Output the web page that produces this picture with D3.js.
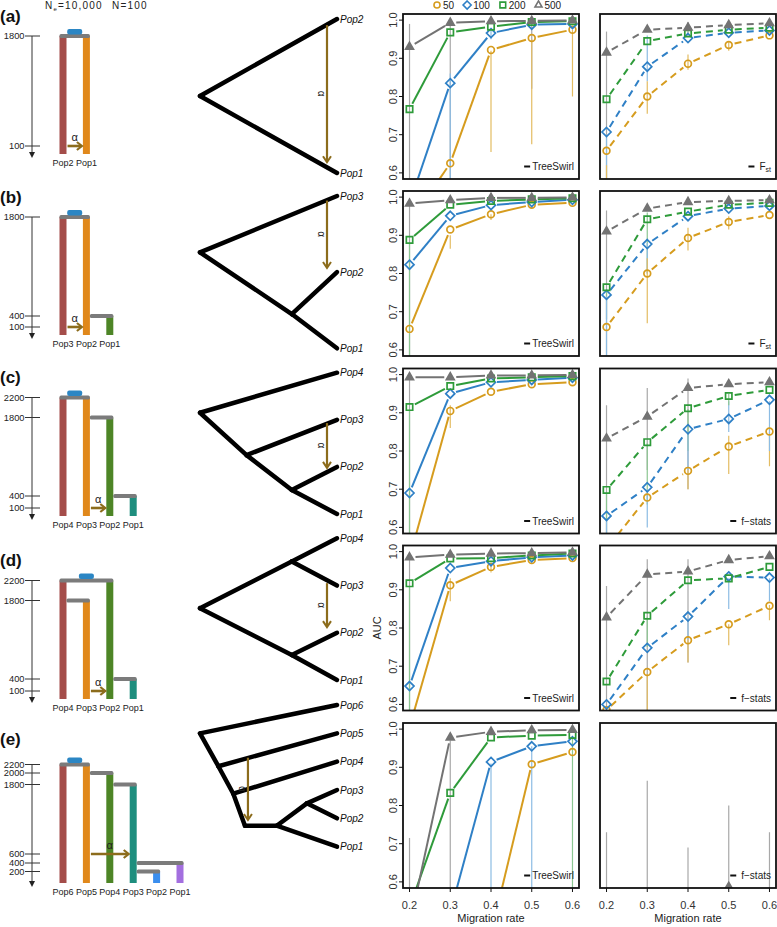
<!DOCTYPE html>
<html>
<head>
<meta charset="utf-8">
<script src="https://cdn.jsdelivr.net/npm/d3@7"></script>
<style>
  body { margin: 0; background: #fff; }
  text { font-family: "Liberation Sans", Arial, sans-serif; }
</style>
</head>
<body>
<svg id="fig" width="777" height="927"></svg>
<script>
// ---- data -------------------------------------------------------------
const rates = [0.2, 0.3, 0.4, 0.5, 0.6];
const sizeLabels = ["50", "100", "200", "500"];
const aucTicks = [0.6, 0.7, 0.8, 0.9, 1.0];

// AUC, one row per sample size (50, 100, 200, 500)
const treeswirlA = [
  [0.47, 0.625, 0.922, 0.953, 0.975],
  [0.52, 0.835, 0.966, 0.988, 0.990],
  [0.767, 0.968, 0.983, 0.995, 0.997],
  [0.930, 0.993, 0.997, 0.998, 0.999]
];
const fstA = [
  [0.658, 0.800, 0.886, 0.935, 0.960],
  [0.707, 0.878, 0.953, 0.967, 0.973],
  [0.793, 0.945, 0.965, 0.975, 0.980],
  [0.915, 0.975, 0.980, 0.987, 0.992]
];
const treeswirlB = [
  [0.655, 0.915, 0.955, 0.980, 0.985],
  [0.823, 0.951, 0.979, 0.987, 0.993],
  [0.888, 0.980, 0.990, 0.994, 0.997],
  [0.983, 0.992, 0.998, 0.998, 0.999]
];
const fstB = [
  [0.660, 0.800, 0.893, 0.935, 0.953],
  [0.744, 0.877, 0.950, 0.970, 0.977],
  [0.764, 0.942, 0.962, 0.980, 0.985],
  [0.910, 0.970, 0.987, 0.990, 0.992]
];
const treeswirlC = [
  [0.52, 0.905, 0.955, 0.975, 0.980],
  [0.690, 0.950, 0.980, 0.986, 0.992],
  [0.915, 0.970, 0.990, 0.993, 0.996],
  [0.993, 0.993, 0.998, 0.998, 0.999]
];
const fstatsC = [
  [0.544, 0.678, 0.748, 0.812, 0.851],
  [0.630, 0.705, 0.857, 0.884, 0.934],
  [0.698, 0.823, 0.912, 0.944, 0.960],
  [0.833, 0.890, 0.965, 0.975, 0.980]
];
const treeswirlD = [
  [0.54, 0.912, 0.960, 0.978, 0.983],
  [0.648, 0.957, 0.975, 0.985, 0.990],
  [0.917, 0.982, 0.983, 0.990, 0.995],
  [0.985, 0.992, 0.995, 0.996, 0.998]
];
const fstatsD = [
  [0.585, 0.685, 0.768, 0.810, 0.858],
  [0.600, 0.748, 0.830, 0.935, 0.932],
  [0.660, 0.832, 0.925, 0.930, 0.960],
  [0.828, 0.940, 0.948, 0.978, 0.988]
];
const treeswirlE = [
  [0.40, 0.42, 0.464, 0.908, 0.940],
  [0.45, 0.52, 0.914, 0.955, 0.968],
  [0.533, 0.833, 0.978, 0.983, 0.985],
  [0.485, 0.978, 0.993, 0.997, 0.998]
];
const fstatsE = [
  [0.45, 0.45, 0.45, 0.45, 0.45],
  [0.45, 0.45, 0.45, 0.45, 0.45],
  [0.45, 0.45, 0.45, 0.45, 0.45],
  [0.50, 0.50, 0.50, 0.587, 0.50]
];

// visible spread bars: [sample size index, rate index, low, high]
const spreadTreeA = [[3,0,0.5,0.99],[3,1,0.5,0.995],[1,1,0.5,0.86],[1,2,0.95,0.975],[0,2,0.655,0.92],[3,3,0.82,0.995],[0,3,0.675,0.95],[0,4,0.80,0.975]];
const spreadFstA = [[3,0,0.5,0.97],[1,0,0.5,0.70],[0,0,0.5,0.62],[1,1,0.84,0.96],[0,1,0.755,0.84],[3,2,0.96,0.995],[0,2,0.87,0.91],[0,3,0.92,0.945]];
const spreadTreeB = [[3,0,0.5,0.998],[2,0,0.5,0.88],[0,1,0.865,0.90],[0,2,0.94,0.955]];
const spreadFstB = [[3,0,0.5,0.965],[2,0,0.68,0.76],[1,0,0.5,0.74],[2,1,0.80,0.96],[1,1,0.80,0.88],[0,1,0.67,0.84],[0,2,0.86,0.92],[0,3,0.915,0.95]];
const spreadTreeC = [[3,0,0.5,0.995],[2,0,0.5,0.91],[0,1,0.86,0.92]];
const spreadFstC = [[3,0,0.5,0.92],[2,0,0.5,0.69],[1,0,0.5,0.62],[3,1,0.75,0.965],[2,1,0.66,0.82],[1,1,0.6,0.70],
  [3,2,0.70,0.99],[2,2,0.8,0.91],[1,2,0.75,0.85],[0,2,0.70,0.75],[0,3,0.74,0.84],[1,3,0.85,0.93],[2,3,0.92,0.95],[0,4,0.76,0.85],[1,4,0.80,0.93]];
const spreadTreeD = [[3,0,0.5,0.99],[2,0,0.5,0.91],[0,1,0.87,0.93],[0,2,0.945,0.965]];
const spreadFstD = [[3,0,0.5,0.91],[3,1,0.5,0.98],[2,1,0.75,0.83],[0,1,0.5,0.68],[3,2,0.71,0.98],[1,2,0.77,0.83],[0,2,0.71,0.77],
  [1,3,0.85,0.93],[0,3,0.755,0.81],[1,4,0.87,0.93],[0,4,0.82,0.86]];
const spreadTreeE = [[3,0,0.5,0.715],[3,1,0.5,0.97],[1,2,0.5,0.91],[1,3,0.5,0.955],[2,4,0.5,0.98]];
const spreadFstE = [[3,0,0.5,0.73],[3,1,0.5,0.865],[3,2,0.5,0.69],[3,3,0.5,0.80],[3,4,0.5,0.73]];

// demographic models: populations, splits [time, parent, child] (first = root), migration [time, from, to]
const popsA = ["Pop2", "Pop1"];
const splitsA = [[1800, 0, 1]];
const migrationA = [100, 0, 1];
const timeTicksA = [1800, 100];
const popsB = ["Pop3", "Pop2", "Pop1"];
const splitsB = [[1800, 0, 1], [400, 1, 2]];
const migrationB = [100, 0, 1];
const timeTicksB = [1800, 400, 100];
const popsC = ["Pop4", "Pop3", "Pop2", "Pop1"];
const splitsC = [[2200, 0, 1], [1800, 1, 2], [400, 2, 3]];
const migrationC = [100, 1, 2];
const timeTicksC = [2200, 1800, 400, 100];
const popsD = ["Pop4", "Pop3", "Pop2", "Pop1"];
const splitsD = [[2200, 0, 2], [1800, 0, 1], [400, 2, 3]];
const migrationD = [100, 1, 2];
const timeTicksD = [2200, 1800, 400, 100];
const popsE = ["Pop6", "Pop5", "Pop4", "Pop3", "Pop2", "Pop1"];
const splitsE = [[2200, 0, 1], [2000, 1, 2], [1800, 2, 3], [400, 3, 5], [200, 3, 4]];
const migrationE = [600, 1, 3];
const timeTicksE = [2200, 2000, 1800, 600, 400, 200];

// trees: tips in order, inner nodes [depth, tip units], edges between node ids (tips first)
const tipsA = ["Pop2", "Pop1"];
const innerA = [[0, 0.5]];
const edgesA = [[2, 0], [2, 1]];
const arrowA = [0.927, 0.04, 0.93];
const tipsB = ["Pop3", "Pop2", "Pop1"];
const innerB = [[0, 0.74], [0.67, 1.55]];
const edgesB = [[3, 0], [3, 4], [4, 1], [4, 2]];
const arrowB = [0.927, 0.06, 0.945];
const tipsC = ["Pop4", "Pop3", "Pop2", "Pop1"];
const innerC = [[0, 0.85], [0.34, 1.75], [0.67, 2.49]];
const edgesC = [[4, 0], [4, 5], [5, 1], [5, 6], [6, 2], [6, 3]];
const arrowC = [0.927, 1.07, 2.02];
const tipsD = ["Pop4", "Pop3", "Pop2", "Pop1"];
const innerD = [[0, 1.48], [0.67, 0.49], [0.67, 2.47]];
const edgesD = [[4, 5], [5, 0], [5, 1], [4, 6], [6, 2], [6, 3]];
const arrowD = [0.927, 0.95, 1.88];
const tipsE = ["Pop6", "Pop5", "Pop4", "Pop3", "Pop2", "Pop1"];
const innerE = [[0, 1.0], [0.134, 2.16], [0.243, 3.13], [0.328, 4.26], [0.56, 4.26], [0.78, 3.47]];
const edgesE = [[6, 0], [6, 7], [7, 1], [7, 8], [8, 2], [8, 9], [9, 10], [10, 11], [11, 3], [11, 4], [10, 5]];
const arrowE = [0.35, 1.86, 4.06];

// ---- layout -----------------------------------------------------------
const svg = d3.select("#fig");
const defs = svg.append("defs");
const seriesColors = ["#D69C1E", "#2F80C6", "#2E9B3A", "#737373"];
const spreadColors = ["#E3BC62", "#8CBCE3", "#8CC692", "#A8A8A8"];
const popColors = ["#A44D4A", "#E0881B", "#4D8526", "#1E8E7E", "#3A8EEE", "#A36FDF"];
const arrowColor = "#8C6C1C";
const symbolTypes = [d3.symbolCircle, d3.symbolDiamond2 || d3.symbolDiamond, d3.symbolSquare2 || d3.symbolSquare, d3.symbolTriangle2 || d3.symbolTriangle];
const symbolSizes = [36, 52, 52, 44];

const plotLefts = [403, 600];
const plotWidth = 176, plotHeight = 165;
const rowTops = [14, 191, 368.5, 545.5, 723];
const diagramBase = [154, 335, 516, 699, 883];
const letterY = [22, 203, 383, 566, 745];
const treeTipRange = [[19, 173], [196, 348.3], [372.7, 514], [538.3, 680], [705, 846.7]];

const rows = [
  { letter: "(a)", tree: treeswirlA, other: fstA, spreadT: spreadTreeA, spreadO: spreadFstA, otherName: "fst",
    pops: popsA, splits: splitsA, mig: migrationA, ticks: timeTicksA, tips: tipsA, inner: innerA, edges: edgesA, arrow: arrowA },
  { letter: "(b)", tree: treeswirlB, other: fstB, spreadT: spreadTreeB, spreadO: spreadFstB, otherName: "fst",
    pops: popsB, splits: splitsB, mig: migrationB, ticks: timeTicksB, tips: tipsB, inner: innerB, edges: edgesB, arrow: arrowB },
  { letter: "(c)", tree: treeswirlC, other: fstatsC, spreadT: spreadTreeC, spreadO: spreadFstC, otherName: "f\u2212stats",
    pops: popsC, splits: splitsC, mig: migrationC, ticks: timeTicksC, tips: tipsC, inner: innerC, edges: edgesC, arrow: arrowC },
  { letter: "(d)", tree: treeswirlD, other: fstatsD, spreadT: spreadTreeD, spreadO: spreadFstD, otherName: "f\u2212stats",
    pops: popsD, splits: splitsD, mig: migrationD, ticks: timeTicksD, tips: tipsD, inner: innerD, edges: edgesD, arrow: arrowD },
  { letter: "(e)", tree: treeswirlE, other: fstatsE, spreadT: spreadTreeE, spreadO: spreadFstE, otherName: "f\u2212stats",
    pops: popsE, splits: splitsE, mig: migrationE, ticks: timeTicksE, tips: tipsE, inner: innerE, edges: edgesE, arrow: arrowE }
];

// broken time axis of the demographic sketches
const time1800 = d3.scaleLinear().domain([0, 100, 400, 1800]).range([0, 8, 19, 118]);
const time2200 = d3.scaleLinear().domain([0, 100, 200, 400, 600, 1800, 2000, 2200]).range([0, 8, 11.5, 20, 29, 98.5, 110, 118.5]);
const popX = d3.scaleLinear().domain([0, 1]).range([63, 86.4]);
const treeX = d3.scaleLinear().domain([0, 1]).range([200, 337]);

const gap = 6;
function trimSegment(p, q) {
  const dx = q[0] - p[0], dy = q[1] - p[1], len = Math.hypot(dx, dy);
  if (len <= 2 * gap) return null;
  const ux = dx / len, uy = dy / len;
  return [p[0] + ux * gap, p[1] + uy * gap, q[0] - ux * gap, q[1] - uy * gap];
}

let clipCount = 0;
function drawPanel(left, top, values, spread, dashed, legendName, withY, withX) {
  const x = d3.scaleLinear().domain([0.184, 0.616]).range([left, left + plotWidth]);
  const y = d3.scaleLinear().domain([0.584, 1.016]).range([top + plotHeight, top]);
  const id = "clip" + (clipCount++);
  defs.append("clipPath").attr("id", id).append("rect")
    .attr("x", left).attr("y", top).attr("width", plotWidth).attr("height", plotHeight);
  const g = svg.append("g").attr("clip-path", `url(#${id})`);

  g.selectAll("line.spread").data(spread).join("line")
    .attr("class", "spread")
    .attr("x1", d => x(rates[d[1]])).attr("x2", d => x(rates[d[1]]))
    .attr("y1", d => y(d[2])).attr("y2", d => y(d[3]))
    .attr("stroke", d => spreadColors[d[0]]).attr("stroke-width", 1.2);

  values.forEach((vals, k) => {
    const pts = vals.map((v, i) => [x(rates[i]), y(v)]);
    const segs = d3.pairs(pts).map(([p, q]) => trimSegment(p, q)).filter(Boolean);
    g.append("g").selectAll("line").data(segs).join("line")
      .attr("x1", d => d[0]).attr("y1", d => d[1]).attr("x2", d => d[2]).attr("y2", d => d[3])
      .attr("stroke", seriesColors[k]).attr("stroke-width", 2)
      .attr("stroke-dasharray", dashed ? "7,5" : null);
    g.append("g").selectAll("path").data(pts).join("path")
      .attr("transform", d => `translate(${d[0]},${d[1]})`)
      .attr("d", d3.symbol(symbolTypes[k], symbolSizes[k]))
      .attr("fill", k === 3 ? seriesColors[k] : "none")
      .attr("stroke", seriesColors[k]).attr("stroke-width", 1.7);
  });

  svg.append("rect").attr("x", left).attr("y", top).attr("width", plotWidth).attr("height", plotHeight)
    .attr("fill", "none").attr("stroke", "#111").attr("stroke-width", 1.8);

  // legend entry
  const rx = left + plotWidth - 5, by = top + plotHeight - 9;
  const txt = svg.append("text").attr("x", rx).attr("y", by).attr("text-anchor", "end")
    .attr("font-size", 10).attr("fill", "#222");
  if (legendName === "fst") {
    txt.append("tspan").text("F");
    txt.append("tspan").attr("font-size", 7).attr("dy", 2).text("st");
  } else {
    txt.text(legendName);
  }
  const w = txt.node().getComputedTextLength();
  const pad = dashed ? 5 : 2;
  svg.append("line").attr("x1", rx - w - pad - 6).attr("x2", rx - w - pad)
    .attr("y1", by - 3.5).attr("y2", by - 3.5).attr("stroke", "#111").attr("stroke-width", 2);

  if (withY) {
    const ya = svg.append("g");
    ya.selectAll("line").data(aucTicks).join("line")
      .attr("x1", left - 4).attr("x2", left).attr("y1", d => y(d)).attr("y2", d => y(d))
      .attr("stroke", "#111");
    ya.selectAll("text").data(aucTicks).join("text")
      .attr("transform", d => `translate(${left - 6.5},${y(d)}) rotate(-90)`)
      .attr("text-anchor", "middle").attr("font-size", 11).attr("fill", "#333")
      .text(d3.format(".1f"));
  }
  if (withX) {
    const xa = svg.append("g");
    xa.selectAll("line").data(rates).join("line")
      .attr("x1", d => x(d)).attr("x2", d => x(d)).attr("y1", top + plotHeight).attr("y2", top + plotHeight + 4)
      .attr("stroke", "#111");
    xa.selectAll("text").data(rates).join("text")
      .attr("x", d => x(d)).attr("y", top + plotHeight + 21)
      .attr("text-anchor", "middle").attr("font-size", 11).attr("fill", "#333")
      .text(d3.format(".1f"));
    svg.append("text").attr("x", left + plotWidth / 2).attr("y", top + plotHeight + 34)
      .attr("text-anchor", "middle").attr("font-size", 11).attr("fill", "#222").text("Migration rate");
  }
}

function drawDiagram(row, r) {
  const base = diagramBase[r];
  const ts = d3.max(row.ticks) > 1800 ? time2200 : time1800;
  const ty = v => base - ts(v);
  const g = svg.append("g");
  const axisX = 32;

  // time axis
  g.append("line").attr("x1", axisX).attr("x2", axisX).attr("y1", ty(d3.max(row.ticks))).attr("y2", base)
    .attr("stroke", "#333").attr("stroke-width", 1);
  g.append("path").attr("d", d3.line()([[axisX - 3, base - 2], [axisX + 3, base - 2], [axisX, base + 4]]) + "Z")
    .attr("fill", "#222");
  g.selectAll("line.tick").data(row.ticks).join("line").attr("class", "tick")
    .attr("x1", 25).attr("x2", 40).attr("y1", d => ty(d)).attr("y2", d => ty(d))
    .attr("stroke", "#333");
  g.selectAll("text.tick").data(row.ticks).join("text").attr("class", "tick")
    .attr("x", 24.5).attr("y", d => ty(d)).attr("dy", "0.35em")
    .attr("text-anchor", "end").attr("font-size", 9.3).attr("fill", "#222").text(d => d);

  // population bars
  const root = row.splits[0];
  const start = row.pops.map((_, i) => {
    const s = row.splits.find(s => s[2] === i);
    return s ? s[0] : root[0];
  });
  g.selectAll("rect.pop").data(row.pops).join("rect").attr("class", "pop")
    .attr("x", (d, i) => popX(i) - 3.5).attr("width", 7)
    .attr("y", (d, i) => ty(start[i])).attr("height", (d, i) => base - ty(start[i]))
    .attr("fill", (d, i) => popColors[i]);

  // split connectors
  const span = (s, j) => [j === 0 ? popX(s[1]) - 3.5 : popX(s[1]) + 3.5, popX(s[2]) + 3.5];
  g.selectAll("rect.split").data(row.splits).join("rect").attr("class", "split")
    .attr("x", (s, j) => span(s, j)[0]).attr("width", (s, j) => span(s, j)[1] - span(s, j)[0])
    .attr("y", s => ty(s[0]) - 2).attr("height", 4).attr("rx", 1.5)
    .attr("fill", "#7B7B7B");
  const rs = span(root, 0);
  g.append("rect").attr("x", (rs[0] + rs[1]) / 2 - 7.5).attr("width", 15)
    .attr("y", ty(root[0]) - 7).attr("height", 5.5).attr("rx", 2).attr("fill", "#2B86C4");

  // migration arrow
  const my = ty(row.mig[0]);
  const mx0 = popX(row.mig[1]) + 4.5, mx1 = popX(row.mig[2]) - 4.5;
  g.append("line").attr("x1", mx0).attr("x2", mx1 - 1).attr("y1", my).attr("y2", my)
    .attr("stroke", arrowColor).attr("stroke-width", 2.6);
  g.append("path").attr("d", d3.line()([[mx1 - 5, my - 4], [mx1, my], [mx1 - 5, my + 4]]))
    .attr("fill", "none").attr("stroke", arrowColor).attr("stroke-width", 2.2);
  g.append("text").attr("x", (mx0 + mx1) / 2).attr("y", my - 5).attr("text-anchor", "middle")
    .attr("font-size", 11).attr("fill", "#222").text("\u03b1");

  // population labels
  g.selectAll("text.pop").data(row.pops).join("text").attr("class", "pop")
    .attr("x", (d, i) => popX(i)).attr("y", base + 11.5)
    .attr("text-anchor", "middle").attr("font-size", 9).attr("fill", "#222").text(d => d);
}

function drawTree(row, r) {
  const [t0, t1] = treeTipRange[r];
  const n = row.tips.length;
  const ty = d3.scaleLinear().domain([0, n - 1]).range([t0, t1]);
  const nodes = row.tips.map((_, i) => [1, i]).concat(row.inner);
  const g = svg.append("g");
  g.selectAll("line.edge").data(row.edges).join("line").attr("class", "edge")
    .attr("x1", e => treeX(nodes[e[0]][0])).attr("y1", e => ty(nodes[e[0]][1]))
    .attr("x2", e => treeX(nodes[e[1]][0])).attr("y2", e => ty(nodes[e[1]][1]))
    .attr("stroke", "#000").attr("stroke-width", 4.5).attr("stroke-linecap", "round");
  g.selectAll("text.tip").data(row.tips).join("text").attr("class", "tip")
    .attr("x", treeX(1) + 3).attr("y", (d, i) => ty(i)).attr("dy", "0.35em")
    .attr("font-size", 10).attr("font-style", "italic").attr("fill", "#111").text(d => d);

  const [ad, a0, a1] = row.arrow;
  const ax = treeX(ad), ay0 = ty(a0), ay1 = ty(a1);
  g.append("line").attr("x1", ax).attr("x2", ax).attr("y1", ay0).attr("y2", ay1 - 1)
    .attr("stroke", arrowColor).attr("stroke-width", 2.2);
  g.append("path").attr("d", d3.line()([[ax - 4, ay1 - 6], [ax, ay1], [ax + 4, ay1 - 6]]))
    .attr("fill", "none").attr("stroke", arrowColor).attr("stroke-width", 2);
  g.append("text").attr("transform", `translate(${ax - 9},${(ay0 + ay1) / 2}) rotate(90)`)
    .attr("text-anchor", "middle").attr("font-size", 10).attr("fill", "#222").text("\u03b1");
}

// ---- draw ---------------------------------------------------------------
rows.forEach((row, r) => {
  svg.append("text").attr("x", 0).attr("y", letterY[r]).attr("font-size", 17).attr("font-weight", "bold")
    .attr("fill", "#111").text(row.letter);
  drawDiagram(row, r);
  drawTree(row, r);
  const last = r === rows.length - 1;
  drawPanel(plotLefts[0], rowTops[r], row.tree, row.spreadT, false, "TreeSwirl", true, last);
  drawPanel(plotLefts[1], rowTops[r], row.other, row.spreadO, true, row.otherName, false, last);
});

svg.append("text").attr("transform", `translate(381,${rowTops[3] + plotHeight / 2}) rotate(-90)`)
  .attr("text-anchor", "middle").attr("font-size", 11).attr("fill", "#222").text("AUC");

// header of the demographic sketches
const header = svg.append("text").attr("x", 45).attr("y", 9).attr("font-size", 10)
  .attr("letter-spacing", 1.2).attr("fill", "#222");
header.append("tspan").text("N");
header.append("tspan").attr("font-size", 6).attr("dy", 2).text("e");
header.append("tspan").attr("dy", -2).text("=10,000");
svg.append("text").attr("x", 112).attr("y", 9).attr("font-size", 10)
  .attr("letter-spacing", 1.2).attr("fill", "#222").text("N=100");

// sample size legend
let lx = 437;
sizeLabels.forEach((lab, k) => {
  svg.append("path").attr("transform", `translate(${lx},5)`)
    .attr("d", d3.symbol(symbolTypes[k], symbolSizes[k] * 0.8))
    .attr("fill", "none").attr("stroke", seriesColors[k]).attr("stroke-width", 1.6);
  const t = svg.append("text").attr("x", lx + 6).attr("y", 5).attr("dy", "0.35em")
    .attr("font-size", 10).attr("fill", "#222").text(lab);
  lx += 6 + t.node().getComputedTextLength() + 13;
});
</script>
</body>
</html>
